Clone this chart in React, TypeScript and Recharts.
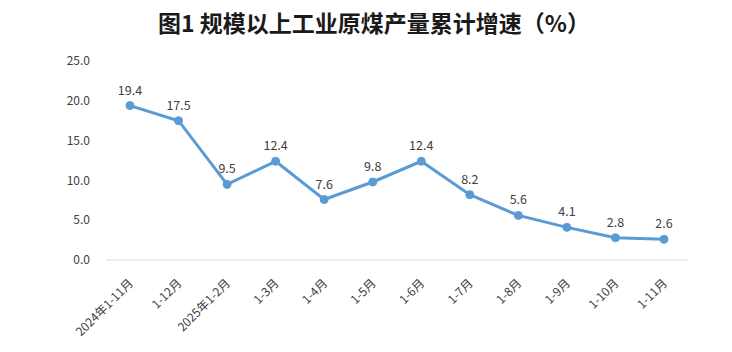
import React from 'react';
import { LineChart, Line, XAxis, YAxis, LabelList } from 'recharts';

const categories = [
  '2024年1-11月',
  '1-12月',
  '2025年1-2月',
  '1-3月',
  '1-4月',
  '1-5月',
  '1-6月',
  '1-7月',
  '1-8月',
  '1-9月',
  '1-10月',
  '1-11月',
];
const growth = [19.4, 17.5, 9.5, 12.4, 7.6, 9.8, 12.4, 8.2, 5.6, 4.1, 2.8, 2.6];
const yTicks = [0, 5, 10, 15, 20, 25];

const data = categories.map((name, i) => ({ name, value: growth[i] }));

const FONT = '"Noto Sans CJK SC", "Noto Sans", sans-serif';

function XTick(props: any) {
  const { x, y, payload } = props;
  return (
    <g transform={`translate(${x + 1},${y + 13})`}>
      <text
        transform="rotate(-45)"
        textAnchor="end"
        dy="0.35em"
        fontSize={12}
        fill="#404040"
        fontFamily={FONT}
      >
        {payload.value}
      </text>
    </g>
  );
}

export default function App() {
  return (
    <div style={{ position: 'absolute', left: 0, top: 0, width: 732, height: 352, background: '#fff' }}>
      <div
        style={{
          position: 'absolute',
          left: 0,
          top: 6,
          width: 748,
          textAlign: 'center',
          fontFamily: '"Noto Sans CJK SC", sans-serif',
          fontWeight: 'bold',
          fontSize: 23,
          color: '#1a1a1a',
          lineHeight: '32px',
        }}
      >
        图1 规模以上工业原煤产量累计增速（%）
      </div>
      <LineChart
        width={732}
        height={352}
        data={data}
        margin={{ top: 61, right: 44, left: 46, bottom: 0 }}
      >
        <XAxis
          dataKey="name"
          interval={0}
          padding={{ left: 24, right: 24 }}
          tickLine={false}
          axisLine={{ stroke: '#d9d9d9', strokeWidth: 1 }}
          height={92}
          tick={<XTick />}
        />
        <YAxis
          domain={[0, 25]}
          ticks={yTicks}
          width={60}
          axisLine={false}
          tickLine={false}
          tickSize={0}
          tickMargin={16}
          tickFormatter={(v: number) => v.toFixed(1)}
          tick={{ fontSize: 12, fill: '#404040', fontFamily: FONT }}
        />
        <Line
          type="linear"
          dataKey="value"
          stroke="#5b9bd5"
          strokeWidth={3}
          dot={{ r: 4, fill: '#5b9bd5', stroke: '#5b9bd5', strokeWidth: 1 }}
          isAnimationActive={false}
        >
          <LabelList
            dataKey="value"
            position="top"
            offset={11}
            formatter={(v: number) => v.toFixed(1)}
            style={{ fontSize: 12.5, fill: '#404040', fontFamily: FONT }}
          />
        </Line>
      </LineChart>
    </div>
  );
}
